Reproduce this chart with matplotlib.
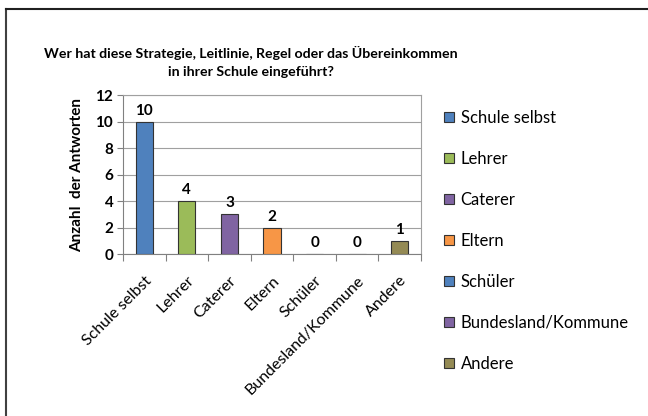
import matplotlib
matplotlib.use("Agg")
import matplotlib.pyplot as plt
from matplotlib.lines import Line2D
from matplotlib.patches import Patch

plt.rcParams['font.family'] = ['Lato', 'DejaVu Sans']

categories = ["Schule selbst", "Lehrer", "Caterer", "Eltern", "Schüler",
              "Bundesland/Kommune", "Andere"]
values = [10, 4, 3, 2, 0, 0, 1]
colors = ["#4F81BD", "#9BBB59", "#8064A2", "#F79646", "#4F81BD", "#8064A2", "#948A54"]
yticks = [0, 2, 4, 6, 8, 10, 12]
title = "Wer hat diese Strategie, Leitlinie, Regel oder das Übereinkommen\nin ihrer Schule eingeführt?"
ylabel = "Anzahl  der Antworten"

W, H = 648, 416
fig = plt.figure(figsize=(W / 100, H / 100), dpi=100)
fig.patch.set_facecolor("white")

# outer border (left and top visible)
fig.add_artist(Line2D([6 / W, 6 / W], [0, 1 - 9 / H], transform=fig.transFigure,
                      color="#404040", lw=1.5))
fig.add_artist(Line2D([6 / W, 1], [1 - 9 / H, 1 - 9 / H], transform=fig.transFigure,
                      color="#202020", lw=1.5))

x0, x1 = 123, 421
y0, y1 = 95, 254
ax = fig.add_axes([x0 / W, 1 - y1 / H, (x1 - x0) / W, (y1 - y0) / H])

xs = list(range(len(categories)))
ax.bar(xs, values, width=0.4, color=colors, edgecolor="#333333", linewidth=0.8, zorder=3)
for x, v in zip(xs, values):
    ax.text(x, v + 0.3, str(v), ha="center", va="bottom", fontsize=11, fontweight="bold")

ax.set_xlim(-0.5, len(categories) - 0.5)
ax.set_ylim(0, 12)
ax.set_yticks(yticks)
ax.set_yticklabels([str(t) for t in yticks], fontsize=11, fontweight="bold")
ax.yaxis.grid(True, color="#A0A0A0", lw=0.8, zorder=0)
ax.set_xticks([i - 0.5 for i in range(len(categories) + 1)], minor=False)
ax.set_xticklabels([""] * (len(categories) + 1))
ax.set_xticks(xs, minor=True)
ax.set_xticklabels(categories, minor=True, rotation=45, ha="right", rotation_mode="anchor",
                   fontsize=11.5)
ax.tick_params(axis="x", which="minor", length=0, pad=14)
ax.tick_params(axis="x", which="major", length=5, direction="out", color="#808080")
ax.tick_params(axis="y", length=4, direction="out", color="#808080", pad=3)
for s in ["top", "right"]:
    ax.spines[s].set_color("#A0A0A0")
    ax.spines[s].set_linewidth(0.8)
ax.spines["left"].set_color("#808080")
ax.spines["bottom"].set_color("#808080")

ax.set_ylabel(ylabel, fontsize=11, fontweight="bold", labelpad=8)

fig.text(251 / W, 1 - 62 / H, title, ha="center", va="center", fontsize=10.2,
         fontweight="bold", linespacing=1.6)

handles = [Patch(facecolor=c, edgecolor="#333333", linewidth=0.8) for c in colors]
fig.legend(handles, categories, loc="upper left", bbox_to_anchor=(429 / W, 1 - 95 / H),
           frameon=False, fontsize=12, handlelength=0.6, handleheight=0.6,
           handletextpad=0.4, labelspacing=1.5)

fig.savefig("out.png", dpi=100, facecolor="white")
